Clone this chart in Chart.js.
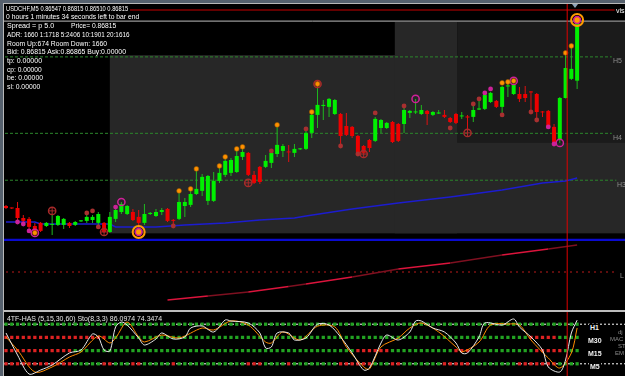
<!DOCTYPE html>
<html>
<head>
<meta charset="utf-8">
<title>USDCHF,M5</title>
<script src="https://cdn.jsdelivr.net/npm/chart.js@4.4.1/dist/chart.umd.min.js"></script>
<style>
  html, body { margin: 0; padding: 0; background: #000; }
  #wrap { position: relative; width: 625px; height: 376px; overflow: hidden; background: #000; }
  #wrap canvas { position: absolute; left: 0; }
  #main { top: 0; }
  #panel { top: 312px; }
  .edge { position: absolute; }
  .t { position: absolute; white-space: nowrap; font: 7px/7px "Liberation Sans", Arial, sans-serif; color: #fff; transform-origin: 0 0; }
  .lvl { color: #8e8e8e; }
  .tf { font-weight: bold; color: #f2f2f2; background: #000; padding: 0 1px; }
  .cut { color: #8a8a8a; font-size: 6px; line-height: 6px; }
  .shift { position: absolute; left: 572px; top: 4px; width: 0; height: 0; border-left: 3px solid transparent; border-right: 3px solid transparent; border-top: 4px solid #8fa3b8; }
</style>
</head>
<body>
<div id="wrap">
  <canvas id="main" width="625" height="310"></canvas>
  <canvas id="panel" width="625" height="64"></canvas>

  <div class="edge" style="left:0;top:0;width:625px;height:3px;background:#56616e"></div>
  <div class="edge" style="left:0;top:3px;width:625px;height:1px;background:#b8b8b8"></div>
  <div class="edge" style="left:0;top:0;width:3px;height:376px;background:#56616e"></div>
  <div class="edge" style="left:3px;top:3px;width:1px;height:373px;background:#b8b8b8"></div>
  <div class="edge" style="left:4px;top:310px;width:621px;height:2px;background:#bdbdbd"></div>
  <div class="shift"></div>

  <div class="t" style="left:6px;top:5px" data-w="122">USDCHF,M5  0.86547 0.86815 0.86510 0.86815</div>
  <div class="t" style="left:6px;top:13px" data-w="133">0 hours 1 minutes 34 seconds left to bar end</div>
  <div class="t" style="left:7px;top:22px" data-w="47">Spread = p 5.0</div>
  <div class="t" style="left:71px;top:22px" data-w="45">Price= 0.86815</div>
  <div class="t" style="left:7px;top:31px" data-w="122">ADR: 1660 1:1718 5:2406 10:1901 20:1616</div>
  <div class="t" style="left:7px;top:40px" data-w="100">Room Up:674 Room Down: 1660</div>
  <div class="t" style="left:7px;top:48px" data-w="119">Bid: 0.86815 Ask:0.86865 Buy:0.00000</div>
  <div class="t" style="left:7px;top:57px" data-w="35">tp: 0.00000</div>
  <div class="t" style="left:7px;top:66px" data-w="35">cp: 0.00000</div>
  <div class="t" style="left:7px;top:74px" data-w="36">be: 0.00000</div>
  <div class="t" style="left:7px;top:83px" data-w="33">sl: 0.00000</div>

  <div class="t" style="left:616px;top:7px">vis</div>
  <div class="t lvl" style="left:613px;top:57px">H5</div>
  <div class="t lvl" style="left:613px;top:134px">H4</div>
  <div class="t lvl" style="left:617px;top:181px">H3</div>
  <div class="t lvl" style="left:620px;top:272px">L</div>

  <div class="t" style="left:7px;top:315px;color:#e6e6e6" data-w="155">4TF-HAS (5,15,30,60)  Sto(8,3,3) 86.0974 74.3474</div>
  <div class="t tf" style="left:589px;top:324px">H1</div>
  <div class="t tf" style="left:587px;top:337px">M30</div>
  <div class="t tf" style="left:587px;top:350px">M15</div>
  <div class="t tf" style="left:589px;top:363px">M5</div>
  <div class="t cut" style="left:618px;top:329px">dj</div>
  <div class="t cut" style="left:610px;top:336px">MAC</div>
  <div class="t cut" style="left:618px;top:343px">ST</div>
  <div class="t cut" style="left:615px;top:350px">EM</div>
</div>

<script>
// prices in points (1 point = 0.00001)
const openPts = [85983,85974,85974,85929,85925,85893,85907,85893,85898,85898,
  85898,85907,85898,85914,85916,85920,85907,85907,85866,85925,
  85956,85947,85956,85934,85907,85947,85938,85956,85970,85920,
  85925,85983,85988,86037,86051,86006,86006,86096,86123,86132,
  86136,86204,86222,86123,86159,86159,86177,86217,86231,86228,
  86222,86238,86240,86312,86393,86433,86429,86397,86397,86343,
  86339,86298,86253,86280,86276,86334,86334,86361,86352,86352,
  86402,86404,86397,86411,86393,86399,86393,86379,86397,86386,
  86386,86384,86417,86420,86451,86456,86429,86521,86487,86487,
  86487,86498,86487,86408,86411,86339,86280,86469,86555,86547];
const highPts = [85988,85976,86001,85943,85934,85907,85911,85911,85947,85943,
  85929,85911,85916,85920,85947,85943,85956,85911,85956,85974,
  86001,85988,85970,85965,85992,85956,85970,85974,85974,85925,
  86051,86019,86055,86145,86127,86123,86136,86154,86195,86199,
  86231,86249,86226,86141,86163,86213,86226,86348,86262,86258,
  86262,86244,86321,86402,86528,86460,86469,86465,86402,86402,
  86343,86303,86258,86285,86384,86375,86361,86366,86357,86438,
  86415,86465,86438,86415,86411,86415,86415,86384,86402,86406,
  86393,86442,86465,86487,86496,86460,86523,86541,86532,86519,
  86523,86501,86492,86411,86415,86352,86474,86676,86703,86815];
const lowPts = [85970,85970,85916,85902,85880,85857,85866,85889,85853,85893,
  85880,85884,85893,85911,85907,85907,85889,85862,85862,85911,
  85947,85943,85916,85848,85898,85943,85934,85943,85911,85889,
  85920,85934,85979,86033,86028,85988,86001,86087,86114,86118,
  86132,86190,86118,86082,86082,86154,86154,86204,86204,86181,
  86204,86235,86235,86289,86334,86370,86384,86393,86258,86298,
  86289,86208,86213,86226,86271,86312,86330,86267,86271,86312,
  86379,86397,86393,86348,86388,86397,86379,86357,86352,86375,
  86321,86361,86415,86415,86447,86424,86393,86474,86483,86451,
  86451,86402,86379,86384,86334,86269,86267,86467,86550,86510];
const closePts = [85974,85972,85929,85916,85889,85871,85871,85907,85902,85938,
  85925,85893,85911,85918,85934,85934,85947,85866,85934,85965,
  85992,85983,85920,85907,85947,85952,85956,85965,85916,85916,
  86001,86001,86037,86060,86114,86118,86096,86132,86186,86190,
  86208,86226,86123,86087,86091,86186,86222,86258,86253,86224,
  86240,86242,86312,86393,86438,86438,86465,86460,86298,86303,
  86298,86213,86222,86244,86375,86370,86357,86271,86276,86415,
  86411,86408,86415,86397,86406,86404,86384,86361,86357,86390,
  86381,86415,86422,86483,86492,86429,86519,86525,86528,86465,
  86469,86494,86406,86404,86339,86271,86469,86604,86600,86815];

// arrow / signal markers (bar index, price in points)
const orangeBars = [5,30,32,33,37,38,40,41,47,53,54,86,87,88,97,98];
const orangeVals = [85862,86051,86060,86150,86163,86204,86240,86249,86348,86406,86532,86537,86541,86546,86672,86703];
const darkRedBars = [14,15,16,29,46,52,58,61,64,69,77,81,82,86,91,92];
const darkRedVals = [85952,85961,85889,85893,86231,86330,86253,86217,86402,86433,86334,86442,86465,86393,86406,86370];
const magentaBars = [2,3,4,19,83,84,94,95];
const magentaVals = [85911,85902,85871,85978,86492,86510,86339,86262];
const magentaRingBars = [5,20,71,88,96];
const magentaRingVals = [85862,86001,86465,86546,86267];
const crossRingBars = [8,17,42,54,62,80];
const crossRingVals = [85961,85866,86087,86532,86217,86312];
const bigRingBars = [23,99];
const bigRingVals = [85866,86820];

// moving averages
const maBars = [0,5,6,18,19,26,31,38,44,50,52,60,68,77,86,93,97,99];
const maVals = [85911,85911,85902,85902,85889,85889,85898,85907,85920,85929,85938,85970,85997,86024,86055,86087,86096,86109];
const slowBars = [28,35,42,49,52,60,68,77,86,94,99];
const slowVals = [85560,85578,85596,85621,85632,85664,85700,85727,85763,85790,85808];

// levels
const levelH5 = 86654, levelH4 = 86310, levelH3 = 86099;
const levelL = 85686;
const supportLine = 85831;
const askPrice = 86865, bidPrice = 86815;
const cursorBar = 97.28;

// shaded zones
const zoneFrom = [18.0, 67.4, 78.2];
const zoneTo = [107.3, 78.2, 107.3];
const zoneTop = [86662, 86811, 86811];
const zoneBottom = [85860, 85860, 86267];

// lower window: stochastic 8,3,3 and 4 timeframe rows (g = up, r = down)
const stoBars = [0,2,4,6,8,11,13,15,16,17,18,19,20,21,23,24,26,27,29,31,32,34,36,38,39,42,44,45,46,47,49,50,52,54,56,58,60,62,63,65,66,68,70,71,72,74,76,78,79,80,82,83,86,88,89,91,93,94,96,97,98,99];
const stoMain = [66.7,33.3,4.5,10.6,18.2,36.4,40.9,65.2,60.6,40.9,39.4,75.8,83.3,78.8,59.1,48.5,57.6,66.7,57.6,60.6,74.2,77.3,68.2,86.4,84.8,81.8,66.7,43.9,45.5,66.7,66.7,56.1,59.1,80,78.8,60.6,36.4,10.6,13.6,51.5,63.6,56.1,68.2,84.8,84.8,74.2,68.2,51.5,36.4,36.4,60.6,81.8,78.8,87.9,75.8,60.6,40.9,15.2,7.6,25.8,66.7,86.1];
const sigBars = [0,2,5,8,11,13,16,18,19,21,23,24,27,30,34,36,39,42,45,46,48,51,54,57,59,62,63,65,68,70,72,75,78,79,82,84,87,89,91,94,96,98,99];
const sigVals = [60.6,40.9,7.6,15.2,30.3,37.9,62.1,51.5,59.1,83.3,60.6,53,63.6,59.1,74.2,71.2,84.8,78.8,53,51.5,68.2,56.1,77,75.8,45.5,15.2,12.1,45.5,59.1,74.2,81.8,68.2,45.5,37.9,53,78.8,80.3,78.8,56.1,28.8,13.6,36.4,74.3];
const rowNames = ["H1", "M30", "M15", "M5"];
const rowLevels = [80, 60, 40, 20];
const rowStates = [
  "gggggggggggggggggggggggggggggggggggggggggggggggggggggggggggggggggggggggggggggggggggggggggggggggggggg",
  "rrrrrrrrrrrrrrrrrrgggggggggggggggggggggggggggggggggggggggggggggggggggggggggggggggggggggggggrrrrrgggg",
  "rrrrrrrrrrrrgggggggggggggggggggggggggggggggggggggggggggggggggrrrrrrgggggggggggrrrgggggggggggrrrrrgggg",
  "rrrrrrrrrrrrgggggrrgggrrgggggrggggggggggggrrrggggrggggggggrrrrrrgggrrgggggggrrrrrggggggggrrrrrrrgggg"
];
const stoLevels = [80, 20];

const xMin = -1.04, xMax = 107.3;

const bars = openPts.map((_, i) => i);
const up = i => closePts[i] >= openPts[i];
const pts = (xs, ys) => xs.map((x, i) => ({ x, y: ys[i] }));
const hLine = (v, from, to) => [{ x: from, y: v }, { x: to, y: v }];

const shade = {
  id: "shade",
  beforeDatasetsDraw(chart) {
    const { ctx, scales: { x, y } } = chart;
    const colors = ["#272727", "#272727", "#1b1b1b"];
    ctx.save();
    zoneFrom.forEach((f, i) => {
      const l = x.getPixelForValue(f), r = x.getPixelForValue(zoneTo[i]);
      const t = y.getPixelForValue(zoneTop[i]), b = y.getPixelForValue(zoneBottom[i]);
      ctx.fillStyle = colors[i];
      ctx.fillRect(l, t, r - l, b - t);
    });
    ctx.restore();
  }
};

const flat = (data, color, width, dash) => ({
  type: "line", data, borderColor: color, borderWidth: width, borderDash: dash || [],
  pointRadius: 0, fill: false, tension: 0
});
const marks = (data, opts) => Object.assign({ type: "scatter", data, pointBorderWidth: 0 }, opts);

const mainSets = [
  flat(hLine(levelH5, xMin, 105), "#2c862c", 1, [3, 2]),
  flat(hLine(levelH4, xMin, 105), "#2c862c", 1, [3, 2]),
  flat(hLine(levelH3, xMin, 105.8), "#2c862c", 1, [3, 2]),
  flat(hLine(levelL, xMin, 105.5), "#7c1212", 1.5, [2, 4]),
  Object.assign(flat(pts(slowBars, slowVals), "#dc143c", 1.5), {
    segment: { borderColor: c => c.p0DataIndex % 2 ? "#7e1020" : "#dc143c" }
  }),
  flat(pts(maBars, maVals), "#1c1cd0", 1.5),
  flat(hLine(supportLine, xMin, xMax), "#0a0ad0", 2.2),
  flat(hLine(askPrice, 21.5, 105.5), "#c80000", 1),
  flat(hLine(bidPrice, xMin, xMax), "#bdbdbd", 1),
  {
    type: "bar", grouped: false, data: bars.map(i => ({ x: i, y: [lowPts[i], highPts[i]] })),
    backgroundColor: bars.map(i => up(i) ? "#1fb81f" : "#e01010"),
    barPercentage: 1, maxBarThickness: 1, minBarLength: 1, borderWidth: 0
  },
  {
    type: "bar", grouped: false, data: bars.map(i => ({ x: i, y: [openPts[i], closePts[i]] })),
    backgroundColor: bars.map(i => up(i) ? "#00f000" : "#ee0000"),
    barPercentage: 1, maxBarThickness: 4, minBarLength: 1, borderWidth: 0
  },
  marks(pts(darkRedBars, darkRedVals), { pointRadius: 2.4, pointBackgroundColor: "#a83030" }),
  marks(pts(magentaBars, magentaVals), { pointRadius: 2.4, pointBackgroundColor: "#cc2299" }),
  marks(pts(magentaRingBars, magentaRingVals), { pointRadius: 3.6, pointBorderWidth: 1.5, pointBorderColor: "#d0209a", pointBackgroundColor: "rgba(0,0,0,0)" }),
  marks(pts(crossRingBars, crossRingVals), { pointRadius: 3.6, pointBorderWidth: 1.5, pointBorderColor: "#a82a2a", pointBackgroundColor: "rgba(0,0,0,0)" }),
  marks(pts(crossRingBars, crossRingVals), { pointStyle: "cross", pointRadius: 3.2, pointBorderWidth: 1, pointBorderColor: "#a82a2a" }),
  marks(pts(orangeBars, orangeVals), { pointRadius: 2.4, pointBackgroundColor: "#ff9000", pointBorderWidth: 0.6, pointBorderColor: "#9a5a00" }),
  marks(pts(bigRingBars, bigRingVals), { pointRadius: 6, pointBorderWidth: 2, pointBorderColor: "#ff9a00", pointBackgroundColor: "rgba(0,0,0,0)" }),
  marks(pts(bigRingBars, bigRingVals), { pointRadius: 3.4, pointBorderWidth: 1.5, pointBorderColor: "#d0189a", pointBackgroundColor: "#ff9a00" }),
  flat([{ x: cursorBar, y: 85515 }, { x: cursorBar, y: 86910 }], "#e00000", 1)
];
mainSets.forEach((d, i) => { d.order = -i; });

new Chart(document.getElementById("main"), {
  type: "bar",
  data: { datasets: mainSets },
  options: {
    responsive: false, animation: false, events: [],
    layout: { autoPadding: false, padding: 0 },
    plugins: { legend: { display: false }, tooltip: { enabled: false } },
    scales: {
      x: { type: "linear", min: xMin, max: xMax, display: false, offset: false },
      y: { type: "linear", min: 85515, max: 86910, display: false }
    }
  },
  plugins: [shade]
});

const panelSets = [];
stoLevels.forEach(v => panelSets.push(flat(hLine(v, xMin, xMax), "#ffffff", 1, [2, 2])));
rowStates.forEach((s, r) => panelSets.push(marks(bars.map(i => ({ x: i, y: rowLevels[r] })), {
  pointStyle: "rect", pointRadius: 2.3,
  pointBackgroundColor: bars.map(i => s[i] === "g" ? "#22a322" : "#dd2222")
})));
panelSets.push(Object.assign(flat(pts(sigBars, sigVals), "#ff8c00", 1), { tension: 0.3 }));
panelSets.push(Object.assign(flat(pts(stoBars, stoMain), "#e8e8e8", 1), { tension: 0.3 }));
panelSets.push(flat([{ x: cursorBar, y: 0 }, { x: cursorBar, y: 100 }], "#e00000", 1));
panelSets.forEach((d, i) => { d.order = -i; });

new Chart(document.getElementById("panel"), {
  type: "scatter",
  data: { datasets: panelSets },
  options: {
    responsive: false, animation: false, events: [],
    layout: { autoPadding: false, padding: 0 },
    plugins: { legend: { display: false }, tooltip: { enabled: false } },
    scales: {
      x: { type: "linear", min: xMin, max: xMax, display: false },
      y: { type: "linear", min: 1.52, max: 98.48, display: false }
    }
  }
});

// squeeze the small labels to the widths seen in the terminal
document.querySelectorAll(".t[data-w]").forEach(el => {
  const w = +el.dataset.w;
  el.style.transform = "scaleX(" + (w / el.offsetWidth).toFixed(3) + ")";
});
</script>
</body>
</html>
